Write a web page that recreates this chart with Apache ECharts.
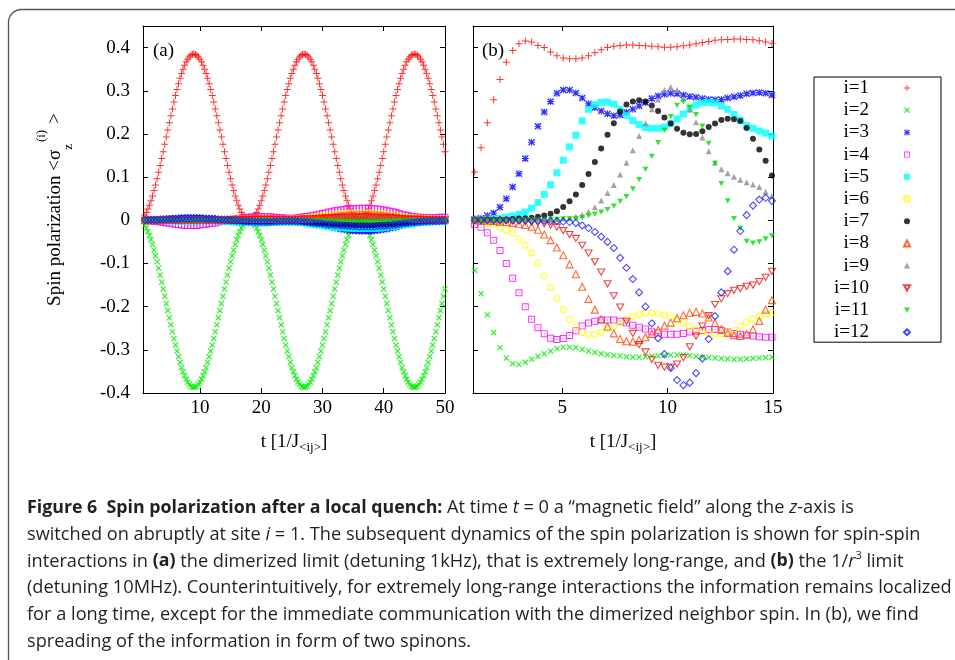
<!DOCTYPE html>
<html>
<head>
<meta charset="utf-8">
<script src="https://cdn.jsdelivr.net/npm/echarts@6/dist/echarts.min.js"></script>
<style>
  html, body { margin: 0; padding: 0; background: #fff; }
  #chart { width: 955px; height: 660px; }
</style>
</head>
<body>
<div id="chart"></div>
<script>
// ---- data ----
const names = ['i=1', 'i=2', 'i=3', 'i=4', 'i=5', 'i=6', 'i=7', 'i=8', 'i=9', 'i=10', 'i=11', 'i=12'];

// panel (a): time grid for i=1 and i=2
const timeA = [
  1,1.25,1.5,1.75,2,2.25,2.5,2.75,3,3.25,3.5,3.75,4,4.25,4.5,4.75,5,5.25,5.5,5.75,
  6,6.25,6.5,6.75,7,7.25,7.5,7.75,8,8.25,8.5,8.75,9,9.25,9.5,9.75,10,10.25,10.5,10.75,
  11,11.25,11.5,11.75,12,12.25,12.5,12.75,13,13.25,13.5,13.75,14,14.25,14.5,14.75,15,15.25,15.5,15.75,
  16,16.25,16.5,16.75,17,17.25,17.5,17.75,18,18.25,18.5,18.75,19,19.25,19.5,19.75,20,20.25,20.5,20.75,
  21,21.25,21.5,21.75,22,22.25,22.5,22.75,23,23.25,23.5,23.75,24,24.25,24.5,24.75,25,25.25,25.5,25.75,
  26,26.25,26.5,26.75,27,27.25,27.5,27.75,28,28.25,28.5,28.75,29,29.25,29.5,29.75,30,30.25,30.5,30.75,
  31,31.25,31.5,31.75,32,32.25,32.5,32.75,33,33.25,33.5,33.75,34,34.25,34.5,34.75,35,35.25,35.5,35.75,
  36,36.25,36.5,36.75,37,37.25,37.5,37.75,38,38.25,38.5,38.75,39,39.25,39.5,39.75,40,40.25,40.5,40.75,
  41,41.25,41.5,41.75,42,42.25,42.5,42.75,43,43.25,43.5,43.75,44,44.25,44.5,44.75,45,45.25,45.5,45.75,
  46,46.25,46.5,46.75,47,47.25,47.5,47.75,48,48.25,48.5,48.75,49,49.25,49.5,49.75,50];
// panel (a): time grid for the small-amplitude sites i=3..12
const timeBand = [
  1,1.5,2,2.5,3,3.5,4,4.5,5,5.5,6,6.5,7,7.5,8,8.5,9,9.5,10,10.5,
  11,11.5,12,12.5,13,13.5,14,14.5,15,15.5,16,16.5,17,17.5,18,18.5,19,19.5,20,20.5,
  21,21.5,22,22.5,23,23.5,24,24.5,25,25.5,26,26.5,27,27.5,28,28.5,29,29.5,30,30.5,
  31,31.5,32,32.5,33,33.5,34,34.5,35,35.5,36,36.5,37,37.5,38,38.5,39,39.5,40,40.5,
  41,41.5,42,42.5,43,43.5,44,44.5,45,45.5,46,46.5,47,47.5,48,48.5,49,49.5,50];

const a1 = [
  0.012,0.018,0.026,0.035,0.045,0.056,0.069,0.082,0.096,0.111,0.127,0.143,0.159,0.176,0.193,0.209,0.226,0.242,0.258,0.274,0.289,0.303,0.316,0.329,0.340,0.350,0.359,0.367,0.373,0.378,0.382,0.384,0.385,
  0.384,0.382,0.378,0.373,0.367,0.359,0.350,0.340,0.329,0.316,0.303,0.289,0.274,0.258,0.242,0.226,0.209,0.193,0.176,0.159,0.143,0.127,0.111,0.096,0.082,0.069,0.056,0.045,0.035,0.026,0.018,0.012,0.007,0.003,0.001,0.000,
  0.001,0.003,0.007,0.012,0.018,0.026,0.035,0.045,0.056,0.069,0.082,0.096,0.111,0.127,0.143,0.159,0.176,0.193,0.209,0.226,0.242,0.258,0.274,0.289,0.303,0.316,0.329,0.340,0.350,0.359,0.367,0.373,0.378,0.382,0.384,0.385,
  0.384,0.382,0.378,0.373,0.367,0.359,0.350,0.340,0.329,0.316,0.303,0.289,0.274,0.258,0.242,0.226,0.209,0.193,0.176,0.159,0.143,0.127,0.111,0.096,0.082,0.069,0.056,0.045,0.035,0.026,0.018,0.012,0.007,0.003,0.001,0.000,
  0.001,0.003,0.007,0.012,0.018,0.026,0.035,0.045,0.056,0.069,0.082,0.096,0.111,0.127,0.143,0.159,0.176,0.193,0.209,0.226,0.242,0.258,0.274,0.289,0.303,0.316,0.329,0.340,0.350,0.359,0.367,0.373,0.378,0.382,0.384,0.385,
  0.384,0.382,0.378,0.373,0.367,0.359,0.350,0.340,0.329,0.316,0.303,0.289,0.274,0.258,0.242,0.226,0.209,0.193,0.176,0.159];
const a2 = [
  -0.012,-0.018,-0.026,-0.035,-0.045,-0.056,-0.069,-0.082,-0.096,-0.111,-0.127,-0.143,-0.159,-0.176,-0.193,-0.209,-0.226,-0.242,-0.258,-0.274,-0.289,-0.303,-0.316,-0.329,-0.341,-0.351,-0.360,-0.368,-0.375,-0.380,-0.384,-0.386,-0.387,
  -0.386,-0.384,-0.380,-0.375,-0.368,-0.360,-0.351,-0.341,-0.329,-0.316,-0.303,-0.289,-0.274,-0.258,-0.242,-0.226,-0.209,-0.193,-0.176,-0.159,-0.143,-0.127,-0.111,-0.096,-0.082,-0.069,-0.056,-0.045,-0.035,-0.026,-0.018,-0.012,-0.007,-0.003,-0.001,0.000,
  -0.001,-0.003,-0.007,-0.012,-0.018,-0.026,-0.035,-0.045,-0.056,-0.069,-0.082,-0.096,-0.111,-0.127,-0.143,-0.159,-0.176,-0.193,-0.209,-0.226,-0.242,-0.258,-0.274,-0.289,-0.303,-0.316,-0.329,-0.341,-0.351,-0.360,-0.368,-0.375,-0.380,-0.384,-0.386,-0.387,
  -0.386,-0.384,-0.380,-0.375,-0.368,-0.360,-0.351,-0.341,-0.329,-0.316,-0.303,-0.289,-0.274,-0.258,-0.242,-0.226,-0.209,-0.193,-0.176,-0.159,-0.143,-0.127,-0.111,-0.096,-0.082,-0.069,-0.056,-0.045,-0.035,-0.026,-0.018,-0.012,-0.007,-0.003,-0.001,0.000,
  -0.001,-0.003,-0.007,-0.012,-0.018,-0.026,-0.035,-0.045,-0.056,-0.069,-0.082,-0.096,-0.111,-0.127,-0.143,-0.159,-0.176,-0.193,-0.209,-0.226,-0.242,-0.258,-0.274,-0.289,-0.303,-0.316,-0.329,-0.341,-0.351,-0.360,-0.368,-0.375,-0.380,-0.384,-0.386,-0.387,
  -0.386,-0.384,-0.380,-0.375,-0.368,-0.360,-0.351,-0.341,-0.329,-0.316,-0.303,-0.289,-0.274,-0.258,-0.242,-0.226,-0.209,-0.193,-0.176,-0.159];

const a3 = [
  0.000,0.000,0.001,0.001,0.002,0.002,0.003,0.003,0.004,0.004,0.005,0.005,0.006,0.006,0.006,0.006,0.006,0.006,0.006,
  0.005,0.005,0.004,0.004,0.003,0.002,0.001,0.001,0.000,0.000,-0.001,-0.001,-0.002,-0.002,-0.003,-0.003,-0.003,-0.004,-0.004,-0.004,
  -0.004,-0.004,-0.003,-0.003,-0.002,-0.002,-0.001,-0.001,-0.001,-0.001,-0.001,-0.002,-0.002,-0.003,-0.004,-0.005,-0.006,-0.008,-0.009,-0.011,
  -0.012,-0.014,-0.015,-0.017,-0.018,-0.020,-0.021,-0.022,-0.023,-0.024,-0.024,-0.025,-0.025,-0.025,-0.025,-0.025,-0.024,-0.023,-0.022,-0.021,
  -0.020,-0.018,-0.017,-0.015,-0.013,-0.011,-0.010,-0.008,-0.006,-0.005,-0.004,-0.003,-0.002,-0.002,-0.001,-0.001,0.000,0.000,0.000,0.000];
const a4 = [
  0.000,0.000,-0.001,-0.002,-0.003,-0.004,-0.005,-0.006,-0.007,-0.008,-0.009,-0.010,-0.011,-0.012,-0.012,-0.012,-0.012,-0.012,-0.011,
  -0.010,-0.009,-0.008,-0.007,-0.006,-0.004,-0.003,-0.001,0.000,0.002,0.003,0.004,0.005,0.006,0.007,0.007,0.008,0.008,0.008,0.008,
  0.008,0.008,0.008,0.007,0.007,0.006,0.006,0.005,0.005,0.005,0.005,0.006,0.007,0.008,0.009,0.010,0.011,0.013,0.014,0.016,
  0.017,0.019,0.020,0.022,0.023,0.024,0.025,0.026,0.026,0.027,0.027,0.028,0.028,0.028,0.028,0.027,0.027,0.026,0.025,0.024,
  0.023,0.021,0.020,0.018,0.016,0.014,0.012,0.011,0.009,0.008,0.007,0.007,0.006,0.006,0.006,0.006,0.006,0.007,0.007,0.007];
const a5 = [
  0.000,0.000,0.000,0.000,-0.001,-0.001,-0.001,-0.001,-0.002,-0.002,-0.002,-0.002,-0.002,-0.002,-0.002,-0.002,-0.002,-0.002,-0.002,
  -0.001,-0.001,-0.001,-0.001,-0.001,-0.001,-0.002,-0.002,-0.003,-0.003,-0.004,-0.004,-0.005,-0.005,-0.005,-0.005,-0.006,-0.006,-0.006,-0.006,
  -0.006,-0.006,-0.005,-0.005,-0.005,-0.005,-0.004,-0.004,-0.004,-0.004,-0.004,-0.005,-0.005,-0.006,-0.007,-0.008,-0.009,-0.010,-0.011,-0.012,
  -0.013,-0.014,-0.015,-0.016,-0.016,-0.017,-0.017,-0.018,-0.018,-0.019,-0.019,-0.019,-0.019,-0.019,-0.019,-0.019,-0.019,-0.018,-0.018,-0.017,
  -0.016,-0.015,-0.014,-0.013,-0.012,-0.011,-0.010,-0.009,-0.008,-0.007,-0.006,-0.005,-0.005,-0.004,-0.004,-0.003,-0.003,-0.003,-0.003,-0.003];
const a6 = [
  0.000,0.000,0.000,0.000,0.000,0.001,0.001,0.001,0.001,0.001,0.001,0.001,0.001,0.001,0.001,0.001,0.001,0.001,0.001,
  0.001,0.001,0.001,0.001,0.001,0.001,0.002,0.002,0.003,0.003,0.003,0.003,0.004,0.004,0.004,0.004,0.004,0.004,0.004,0.004,
  0.004,0.004,0.004,0.004,0.003,0.003,0.003,0.003,0.003,0.003,0.003,0.004,0.004,0.005,0.006,0.007,0.008,0.009,0.010,0.011,
  0.012,0.012,0.013,0.014,0.015,0.015,0.016,0.016,0.017,0.017,0.017,0.017,0.017,0.017,0.017,0.017,0.017,0.016,0.016,0.015,
  0.014,0.013,0.012,0.011,0.010,0.009,0.008,0.007,0.006,0.005,0.005,0.004,0.004,0.004,0.004,0.003,0.003,0.003,0.003,0.003];
const a7 = [
  0.000,0.000,0.000,0.000,0.000,0.000,0.000,0.000,0.000,-0.001,-0.001,-0.001,-0.001,-0.001,-0.001,-0.001,-0.001,-0.001,-0.001,
  -0.001,-0.001,-0.001,-0.001,-0.001,-0.001,-0.001,-0.001,-0.001,-0.002,-0.002,-0.002,-0.002,-0.003,-0.003,-0.003,-0.003,-0.003,-0.003,-0.003,
  -0.003,-0.003,-0.003,-0.003,-0.002,-0.002,-0.002,-0.002,-0.002,-0.002,-0.002,-0.003,-0.003,-0.004,-0.004,-0.005,-0.005,-0.006,-0.006,-0.007,
  -0.007,-0.008,-0.008,-0.009,-0.009,-0.010,-0.010,-0.010,-0.010,-0.011,-0.011,-0.011,-0.011,-0.011,-0.011,-0.011,-0.011,-0.010,-0.010,-0.010,
  -0.010,-0.009,-0.009,-0.008,-0.007,-0.006,-0.006,-0.005,-0.004,-0.004,-0.003,-0.003,-0.002,-0.002,-0.002,-0.002,-0.001,-0.001,-0.001,-0.001];
const a8 = [
  0.000,0.000,0.000,0.000,0.000,0.000,0.000,0.001,0.001,0.001,0.001,0.001,0.001,0.001,0.001,0.001,0.001,0.001,0.001,
  0.001,0.001,0.001,0.001,0.001,0.001,0.001,0.001,0.002,0.002,0.002,0.002,0.003,0.003,0.003,0.003,0.003,0.003,0.003,0.003,
  0.003,0.003,0.003,0.003,0.002,0.002,0.002,0.002,0.002,0.002,0.002,0.003,0.003,0.004,0.004,0.005,0.005,0.006,0.006,0.007,
  0.007,0.008,0.008,0.009,0.009,0.010,0.010,0.011,0.011,0.011,0.011,0.012,0.012,0.012,0.012,0.011,0.011,0.011,0.011,0.010,
  0.010,0.009,0.009,0.008,0.007,0.006,0.006,0.005,0.005,0.004,0.004,0.003,0.003,0.003,0.003,0.002,0.002,0.002,0.002,0.002];
const a9 = [
  0.000,0.000,0.000,0.000,0.000,0.000,0.000,0.000,0.000,0.000,0.000,0.000,0.000,0.000,0.000,0.000,0.000,0.000,0.000,
  0.000,0.000,0.000,0.000,0.000,0.000,0.000,0.000,0.000,0.001,0.001,0.001,0.001,0.001,0.001,0.001,0.001,0.001,0.001,0.001,
  0.001,0.001,0.001,0.001,0.001,0.001,0.001,0.001,0.001,0.001,0.001,0.001,0.001,0.002,0.002,0.002,0.002,0.003,0.003,0.003,
  0.003,0.004,0.004,0.004,0.004,0.005,0.005,0.005,0.005,0.005,0.005,0.005,0.005,0.005,0.005,0.005,0.005,0.005,0.005,0.005,
  0.005,0.004,0.004,0.004,0.004,0.003,0.003,0.003,0.003,0.002,0.002,0.002,0.002,0.001,0.001,0.001,0.001,0.001,0.001,0.001];
const a10 = [
  0.000,0.000,0.000,0.000,0.000,0.000,0.000,0.000,0.000,0.000,0.000,0.000,0.000,0.000,0.000,0.000,0.000,0.000,0.000,
  0.000,0.000,0.000,0.000,0.000,0.000,0.000,0.000,0.000,0.001,0.001,0.001,0.001,0.002,0.002,0.002,0.002,0.002,0.002,0.002,
  0.002,0.002,0.002,0.002,0.002,0.002,0.002,0.001,0.001,0.001,0.001,0.002,0.002,0.003,0.003,0.003,0.003,0.004,0.004,0.005,
  0.005,0.005,0.005,0.006,0.006,0.007,0.007,0.007,0.007,0.007,0.007,0.008,0.008,0.008,0.008,0.007,0.007,0.007,0.006,0.006,
  0.006,0.006,0.005,0.005,0.004,0.004,0.003,0.003,0.002,0.002,0.002,0.002,0.001,0.001,0.001,0.001,0.001,0.001,0.001,0.001];
const a11 = [
  0.000,0.000,0.000,0.000,0.000,0.000,0.000,0.000,0.000,0.000,0.000,0.000,0.000,0.000,0.000,0.000,0.000,0.000,0.000,
  0.000,0.000,0.000,0.000,0.000,0.000,0.000,0.000,0.000,0.000,-0.001,-0.001,-0.001,-0.001,-0.001,-0.001,-0.001,-0.001,-0.001,-0.001,
  -0.001,-0.001,-0.001,-0.001,-0.001,-0.001,-0.001,-0.001,-0.001,-0.001,-0.001,-0.001,-0.001,-0.002,-0.002,-0.002,-0.002,-0.002,-0.002,-0.002,
  -0.003,-0.003,-0.003,-0.003,-0.003,-0.003,-0.003,-0.003,-0.004,-0.004,-0.004,-0.004,-0.004,-0.004,-0.004,-0.004,-0.003,-0.003,-0.003,-0.003,
  -0.003,-0.003,-0.003,-0.002,-0.002,-0.002,-0.002,-0.002,-0.001,-0.001,-0.001,-0.001,-0.001,-0.001,-0.001,-0.001,-0.001,-0.001,-0.001,-0.001];
const a12 = [
  0.000,0.000,0.001,0.001,0.001,0.002,0.002,0.002,0.003,0.003,0.003,0.003,0.004,0.004,0.004,0.004,0.004,0.004,0.004,
  0.004,0.003,0.003,0.003,0.003,0.002,0.002,0.001,0.001,0.000,0.000,-0.001,-0.001,-0.002,-0.002,-0.003,-0.003,-0.004,-0.004,-0.004,
  -0.004,-0.004,-0.004,-0.003,-0.003,-0.002,-0.002,-0.002,-0.002,-0.002,-0.002,-0.003,-0.003,-0.004,-0.004,-0.005,-0.006,-0.007,-0.007,-0.008,
  -0.009,-0.010,-0.010,-0.011,-0.011,-0.012,-0.012,-0.013,-0.013,-0.014,-0.014,-0.015,-0.015,-0.015,-0.015,-0.015,-0.015,-0.014,-0.014,-0.013,
  -0.012,-0.012,-0.011,-0.010,-0.009,-0.008,-0.007,-0.006,-0.005,-0.005,-0.004,-0.004,-0.003,-0.003,-0.002,-0.002,-0.002,-0.002,-0.001,-0.001];

// panel (b): time grid, shared by all sites
const timeB = [0.85,1.15,1.45,1.75,2.05,2.35,2.65,2.95,3.25,3.55,3.85,4.15,4.45,4.75,5.05,5.35,5.65,5.95,6.25,6.55,
  6.85,7.15,7.45,7.75,8.05,8.35,8.65,8.95,9.25,9.55,9.85,10.15,10.45,10.75,11.05,11.35,11.65,11.95,12.25,12.55,
  12.85,13.15,13.45,13.75,14.05,14.35,14.65,14.95];

const b1 = [0.112,0.168,0.226,0.279,0.326,0.366,0.393,0.409,0.415,0.413,0.405,0.400,0.390,0.381,0.376,0.374,0.374,0.376,0.381,0.388,
  0.395,0.400,0.403,0.405,0.406,0.406,0.405,0.404,0.403,0.402,0.401,0.401,0.402,0.404,0.406,0.409,0.412,0.414,0.417,0.418,
  0.419,0.420,0.420,0.419,0.418,0.416,0.413,0.410];
const b2 = [-0.116,-0.170,-0.219,-0.260,-0.295,-0.319,-0.332,-0.334,-0.329,-0.322,-0.315,-0.309,-0.303,-0.297,-0.294,-0.294,-0.295,-0.299,-0.303,-0.306,
  -0.309,-0.311,-0.313,-0.314,-0.316,-0.317,-0.317,-0.316,-0.315,-0.314,-0.313,-0.312,-0.312,-0.312,-0.313,-0.315,-0.317,-0.318,-0.319,-0.320,
  -0.321,-0.322,-0.322,-0.321,-0.320,-0.319,-0.318,-0.317];
const b3 = [0.003,0.005,0.011,0.017,0.030,0.050,0.077,0.108,0.143,0.181,0.218,0.251,0.275,0.294,0.302,0.302,0.295,0.283,0.270,0.261,
  0.253,0.247,0.242,0.244,0.250,0.257,0.265,0.273,0.282,0.288,0.292,0.294,0.293,0.290,0.287,0.285,0.282,0.280,0.279,0.280,
  0.283,0.286,0.289,0.293,0.295,0.296,0.294,0.290];
const b4 = [-0.010,-0.016,-0.029,-0.046,-0.070,-0.100,-0.134,-0.168,-0.200,-0.229,-0.249,-0.263,-0.273,-0.276,-0.274,-0.267,-0.256,-0.245,-0.238,-0.234,
  -0.231,-0.231,-0.231,-0.234,-0.238,-0.243,-0.248,-0.252,-0.258,-0.261,-0.264,-0.264,-0.264,-0.262,-0.259,-0.257,-0.255,-0.253,-0.253,-0.255,
  -0.259,-0.262,-0.264,-0.266,-0.268,-0.270,-0.271,-0.271];
const b5 = [0.002,0.002,0.003,0.004,0.005,0.007,0.010,0.014,0.019,0.028,0.041,0.060,0.082,0.110,0.139,0.170,0.197,0.230,0.257,0.268,
  0.273,0.274,0.269,0.257,0.243,0.231,0.222,0.215,0.213,0.213,0.216,0.224,0.235,0.246,0.259,0.267,0.272,0.273,0.272,0.265,
  0.257,0.245,0.232,0.219,0.213,0.207,0.202,0.195];
const b6 = [-0.002,-0.004,-0.007,-0.011,-0.016,-0.023,-0.030,-0.044,-0.058,-0.076,-0.099,-0.129,-0.156,-0.181,-0.207,-0.230,-0.246,-0.260,-0.264,-0.264,
  -0.259,-0.251,-0.246,-0.238,-0.230,-0.223,-0.219,-0.215,-0.214,-0.216,-0.219,-0.224,-0.231,-0.238,-0.246,-0.253,-0.259,-0.262,-0.264,-0.263,
  -0.259,-0.254,-0.245,-0.236,-0.229,-0.222,-0.218,-0.214];
const b7 = [0.000,0.000,0.001,0.001,0.002,0.002,0.003,0.004,0.005,0.006,0.008,0.011,0.015,0.021,0.031,0.044,0.060,0.082,0.107,0.135,
  0.166,0.198,0.225,0.252,0.268,0.275,0.278,0.275,0.266,0.253,0.238,0.224,0.212,0.203,0.199,0.200,0.206,0.216,0.224,0.232,
  0.235,0.234,0.230,0.214,0.189,0.164,0.138,0.104];
const b8 = [0.000,-0.001,-0.001,-0.002,-0.003,-0.004,-0.006,-0.008,-0.011,-0.015,-0.022,-0.033,-0.046,-0.063,-0.081,-0.102,-0.125,-0.154,-0.182,-0.207,
  -0.229,-0.246,-0.262,-0.275,-0.280,-0.281,-0.277,-0.271,-0.263,-0.254,-0.244,-0.237,-0.227,-0.220,-0.214,-0.212,-0.216,-0.225,-0.238,-0.252,
  -0.261,-0.266,-0.268,-0.264,-0.253,-0.233,-0.207,-0.185];
const b9 = [0.000,0.000,0.000,0.000,0.000,0.001,0.001,0.001,0.001,0.002,0.002,0.002,0.003,0.003,0.004,0.005,0.009,0.013,0.020,0.030,
  0.046,0.063,0.082,0.106,0.133,0.162,0.195,0.225,0.257,0.280,0.302,0.309,0.302,0.282,0.256,0.227,0.192,0.160,0.134,0.118,
  0.109,0.101,0.094,0.088,0.083,0.077,0.066,0.056];
const b10 = [0.000,0.000,0.000,-0.001,-0.001,-0.001,-0.002,-0.002,-0.003,-0.004,-0.006,-0.008,-0.011,-0.016,-0.024,-0.033,-0.042,-0.058,-0.076,-0.096,
  -0.120,-0.147,-0.175,-0.201,-0.234,-0.262,-0.288,-0.305,-0.322,-0.336,-0.340,-0.340,-0.333,-0.318,-0.293,-0.268,-0.245,-0.221,-0.195,-0.182,
  -0.170,-0.162,-0.158,-0.153,-0.150,-0.142,-0.132,-0.118];
const b11 = [0.000,0.000,0.000,0.000,0.000,0.000,0.000,0.000,0.001,0.001,0.001,0.001,0.002,0.002,0.003,0.003,0.004,0.006,0.010,0.014,
  0.019,0.025,0.033,0.044,0.055,0.073,0.094,0.118,0.148,0.180,0.208,0.240,0.266,0.274,0.262,0.245,0.218,0.178,0.132,0.085,
  0.045,0.004,-0.019,-0.049,-0.053,-0.050,-0.043,-0.036];
const b12 = [0.000,0.000,0.000,0.000,0.000,0.000,0.000,0.000,0.000,-0.001,-0.001,-0.001,-0.002,-0.002,-0.003,-0.004,-0.006,-0.012,-0.018,-0.027,
  -0.038,-0.050,-0.064,-0.087,-0.110,-0.136,-0.167,-0.200,-0.239,-0.273,-0.310,-0.342,-0.370,-0.382,-0.376,-0.354,-0.320,-0.275,-0.222,-0.167,
  -0.118,-0.068,-0.025,0.012,0.034,0.048,0.052,0.045];

const xTicksA = [10, 20, 30, 40, 50];
const xTicksB = [5, 10, 15];
const yTicks = [-0.4, -0.3, -0.2, -0.1, 0, 0.1, 0.2, 0.3, 0.4];

const valuesA = [a1, a2, a3, a4, a5, a6, a7, a8, a9, a10, a11, a12];
const valuesB = [b1, b2, b3, b4, b5, b6, b7, b8, b9, b10, b11, b12];

// ---- look ----
const SERIF = 'Liberation Serif';
const SANS = 'Open Sans';

const PLUS = 'path://M3,0h1v3h3v1h-3v3h-1v-3h-3v-1h3z';
const CROSS = 'path://M0,1L1,0L3.5,2.5L6,0L7,1L4.5,3.5L7,6L6,7L3.5,4.5L1,7L0,6L2.5,3.5Z';
const STAR = 'path://M3,0h1v3h3v1h-3v3h-1v-3h-3v-1h3zM0,1L1,0L3.5,2.5L6,0L7,1L4.5,3.5L7,6L6,7L3.5,4.5L1,7L0,6L2.5,3.5Z';
const BOXDOT = 'path://M0,0h7v7h-7zM1,1v5h5v-5zM3,3h1v1h-1z';
const DOWN = 'path://M0,0L8,0L4,7Z';

const looks = [
  { color: '#ff0000', symbol: PLUS, size: 7 },
  { color: '#00ee00', symbol: CROSS, size: 6 },
  { color: '#0000ff', symbol: STAR, size: 7 },
  { color: '#ff00ff', symbol: BOXDOT, size: 7 },
  { color: '#00ffff', symbol: 'rect', size: 7 },
  { color: '#ffff00', symbol: 'circle', size: 6, open: true },
  { color: '#000000', symbol: 'circle', size: 6 },
  { color: '#ff4500', symbol: 'triangle', size: 7, open: true },
  { color: '#8c8c8c', symbol: 'triangle', size: 6 },
  { color: '#ee1111', symbol: DOWN, size: 7, open: true },
  { color: '#00dd00', symbol: DOWN, size: 6 },
  { color: '#1a1aff', symbol: 'diamond', size: 7, open: true }
];

function makeSeries(i, panel) {
  const lk = looks[i];
  const xs = panel === 0 ? (i < 2 ? timeA : timeBand) : timeB;
  const ys = panel === 0 ? valuesA[i] : valuesB[i];
  return {
    name: names[i],
    type: 'scatter',
    xAxisIndex: panel * 2,
    yAxisIndex: panel * 2,
    symbol: lk.symbol,
    symbolSize: lk.size,
    symbolKeepAspect: true,
    itemStyle: lk.open
      ? { color: 'rgba(0,0,0,0)', borderColor: lk.color, borderWidth: 1.1 }
      : { color: lk.color },
    emphasis: { disabled: true },
    data: xs.map(function (t, k) { return [t, ys[k]]; })
  };
}

const series = [];
for (let i = 0; i < 12; i++) series.push(makeSeries(i, 0));
for (let i = 0; i < 12; i++) series.push(makeSeries(i, 1));

const black = { color: '#000', width: 1 };
const labelFont = { fontFamily: SERIF, fontSize: 19, color: '#000' };

function xAx(grid, pos, min, max, ticks, withLabels) {
  const ax = {
    gridIndex: grid, type: 'value', position: pos, min: min, max: max,
    axisLine: { show: true, onZero: false, lineStyle: black },
    axisTick: { show: true, inside: true, length: 5, customValues: ticks, lineStyle: black },
    axisLabel: withLabels ? Object.assign({ customValues: ticks, margin: 6 }, labelFont) : { show: false },
    splitLine: { show: false }
  };
  if (withLabels) {
    ax.name = '{n|t [1/J}{s|<ij>}{n|]}';
    ax.nameLocation = 'middle';
    ax.nameGap = 37;
    ax.nameTextStyle = {
      fontFamily: SERIF, fontSize: 19, color: '#000',
      rich: {
        n: { fontFamily: SERIF, fontSize: 19, color: '#000', lineHeight: 24 },
        s: { fontFamily: SERIF, fontSize: 13, color: '#000', lineHeight: 14, verticalAlign: 'bottom' }
      }
    };
  }
  return ax;
}

function yAx(grid, pos, withLabels) {
  const ax = {
    gridIndex: grid, type: 'value', position: pos, min: -0.4, max: 0.45,
    axisLine: { show: true, onZero: false, lineStyle: black },
    axisTick: { show: true, inside: true, length: 5, customValues: yTicks, lineStyle: black },
    axisLabel: withLabels ? Object.assign({ customValues: yTicks, margin: 13 }, labelFont) : { show: false },
    splitLine: { show: false }
  };
  if (withLabels) {
    ax.name = '{n|Spin polarization <σ}{s|z}{p|(i)}{n|>}';
    ax.nameLocation = 'middle';
    ax.nameRotate = 90;
    ax.nameGap = 68;
    ax.nameTextStyle = {
      fontFamily: SERIF, fontSize: 19, color: '#000',
      rich: {
        n: { fontFamily: SERIF, fontSize: 19, color: '#000', lineHeight: 40 },
        s: { fontFamily: SERIF, fontSize: 13, color: '#000', lineHeight: 26, verticalAlign: 'bottom' },
        p: { fontFamily: SERIF, fontSize: 13, color: '#000', lineHeight: 13, verticalAlign: 'top', padding: [0, 6, 0, 2] }
      }
    };
  }
  return ax;
}

const captionLines = [
  '{b|Figure 6  Spin polarization after a local quench:} At time {i|t} = 0 a “magnetic field” along the {i|z}-axis is',
  'switched on abruptly at site {i|i} = 1. The subsequent dynamics of the spin polarization is shown for spin-spin',
  'interactions in {b|(a)} the dimerized limit (detuning 1kHz), that is extremely long-range, and {b|(b)} the 1/{i|r}{p|3} limit',
  '(detuning 10MHz). Counterintuitively, for extremely long-range interactions the information remains localized',
  'for a long time, except for the immediate communication with the dimerized neighbor spin. In (b), we find',
  'spreading of the information in form of two spinons.'
];
const capColor = '#231f20';
const capSize = 18.2;
const capRich = {
  b: { fontFamily: SANS, fontSize: 17.8, fontWeight: 'bold', fill: capColor, lineHeight: 22 },
  i: { fontFamily: SANS, fontSize: capSize, fontStyle: 'italic', fill: capColor, lineHeight: 22 },
  p: { fontFamily: SANS, fontSize: 11, fill: capColor, lineHeight: 14, verticalAlign: 'top' }
};

const graphics = [
  {
    type: 'rect', silent: true, z: -1,
    shape: { x: 8.5, y: 9.5, width: 1000, height: 700, r: 13 },
    style: { fill: 'none', stroke: '#555', lineWidth: 1.3 }
  },
  { type: 'text', x: 153, y: 51, style: { text: '(a)', fontFamily: SERIF, fontSize: 19, fill: '#000', verticalAlign: 'middle' } },
  { type: 'text', x: 482, y: 51, style: { text: '(b)', fontFamily: SERIF, fontSize: 19, fill: '#000', verticalAlign: 'middle' } }
];
captionLines.forEach(function (line, k) {
  graphics.push({
    type: 'text', x: 27, y: 508 + k * 26.7, silent: true,
    style: {
      text: line, fontFamily: SANS, fontSize: capSize, fill: capColor, lineHeight: 22,
      verticalAlign: 'middle', rich: capRich
    }
  });
});

const option = {
  animation: false,
  backgroundColor: '#fff',
  grid: [
    { left: 143, top: 26, width: 302, height: 367, outerBoundsMode: 'none' },
    { left: 473, top: 26, width: 300, height: 367, outerBoundsMode: 'none' }
  ],
  xAxis: [
    xAx(0, 'bottom', 0.7, 50, xTicksA, true),
    xAx(0, 'top', 0.7, 50, xTicksA, false),
    xAx(1, 'bottom', 0.77, 15, xTicksB, true),
    xAx(1, 'top', 0.77, 15, xTicksB, false)
  ],
  yAxis: [
    yAx(0, 'left', true),
    yAx(0, 'right', false),
    yAx(1, 'left', false),
    yAx(1, 'right', false)
  ],
  legend: {
    data: names,
    orient: 'vertical',
    left: 814,
    top: 77,
    padding: [1.5, 30, 0.5, 20],
    itemGap: 3.2,
    itemWidth: 6,
    itemHeight: 6,
    align: 'right',
    borderColor: '#000',
    borderWidth: 1,
    formatter: '{a|{name}}',
    textStyle: {
      fontFamily: SERIF, fontSize: 19, color: '#000',
      rich: { a: { fontFamily: SERIF, fontSize: 19, color: '#000', align: 'right', padding: [0, 30, 0, 0] } }
    }
  },
  graphic: graphics,
  series: series
};

const chart = echarts.init(document.getElementById('chart'));
chart.setOption(option);
</script>
</body>
</html>
